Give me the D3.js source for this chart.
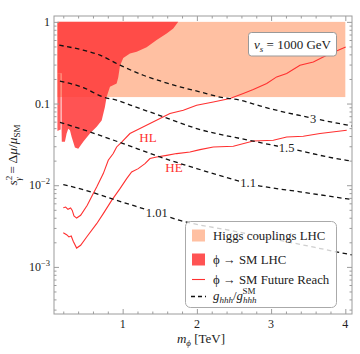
<!DOCTYPE html>
<html>
<head>
<meta charset="utf-8">
<script src="https://cdn.jsdelivr.net/npm/d3@7"></script>
<style>
body { margin: 0; background: #fff; }
text { font-family: "Liberation Serif", "DejaVu Serif", serif; fill: #222; }
</style>
</head>
<body>
<div id="chart"></div>
<script>
// ---- data: [m_phi in TeV, s_gamma^2] ----
var xMajor = [1, 2, 3, 4];
var yMajor = [1, 0.1, 0.01, 0.001];
var yMajorLabels = [['1', ''], ['0.1', ''], ['10', '\u22122'], ['10', '\u22123']];

// Higgs couplings LHC band: [mLow, mHigh], [sLow, sHigh]
var bandM = [0.121, 4.0];
var bandS = [0.12, 1.0];

// phi -> SM LHC excluded region
var lhcRegion = [
    [0.121, 1.0], [1.749, 1.0], [1.682, 0.83], [1.593, 0.72], [1.458, 0.60], [1.323, 0.49],
    [1.189, 0.43], [1.098, 0.41], [1.008, 0.36], [0.964, 0.29], [0.941, 0.21], [0.919, 0.176],
    [0.829, 0.16], [0.784, 0.12], [0.761, 0.091], [0.717, 0.062], [0.650, 0.052], [0.559, 0.043],
    [0.469, 0.034], [0.402, 0.028], [0.357, 0.029], [0.313, 0.039], [0.290, 0.047], [0.267, 0.049],
    [0.245, 0.043], [0.222, 0.034], [0.180, 0.034], [0.177, 0.048], [0.176, 0.235], [0.121, 0.235]
];
var lhcStrip = [[0.121, 0.235], [0.165, 0.235], [0.165, 0.048], [0.121, 0.046]];

// phi -> SM future reach
var reachHL = [
    [0.200, 0.0053], [0.232, 0.0054], [0.263, 0.00507], [0.299, 0.00526], [0.321, 0.00492],
    [0.344, 0.0042], [0.380, 0.00396], [0.434, 0.00428], [0.523, 0.00567], [0.590, 0.0075],
    [0.650, 0.0095], [0.739, 0.01387], [0.806, 0.0202], [0.873, 0.0244], [0.919, 0.0294],
    [0.987, 0.0338], [1.098, 0.0429], [1.233, 0.0494], [1.368, 0.0569], [1.503, 0.0655],
    [1.637, 0.0754], [1.817, 0.0828], [1.997, 0.0953], [2.221, 0.1047], [2.446, 0.115],
    [2.625, 0.1327], [2.760, 0.1485], [2.941, 0.176], [3.075, 0.212], [3.210, 0.233],
    [3.389, 0.295], [3.569, 0.323], [3.749, 0.391], [4.005, 0.494]
];
var reachHE = [
    [0.200, 0.00262], [0.245, 0.00248], [0.276, 0.00233], [0.307, 0.00239], [0.334, 0.00206],
    [0.380, 0.0017], [0.434, 0.00184], [0.515, 0.00232], [0.650, 0.00338], [0.739, 0.00449],
    [0.852, 0.00653], [0.964, 0.00908], [1.054, 0.01205], [1.121, 0.01452], [1.210, 0.01596],
    [1.301, 0.0184], [1.368, 0.0212], [1.458, 0.0222], [1.593, 0.0232], [1.728, 0.0244],
    [1.907, 0.0255], [2.042, 0.0273], [2.221, 0.0294], [2.491, 0.030], [2.760, 0.0348],
    [3.030, 0.0355], [3.210, 0.039], [3.434, 0.0397], [3.659, 0.0429], [4.019, 0.0471]
];
var reachLabels = [['HL', 1.341, 0.0338], ['HE', 1.692, 0.0145]];

// g_hhh / g_hhh^SM contours
var contourNames = ['3', '1.5', '1.1', '1.01'];
var contour3 = [
    [0.146, 0.518], [0.469, 0.450], [0.694, 0.391], [0.964, 0.295], [1.278, 0.222], [1.547, 0.184],
    [1.772, 0.160], [2.042, 0.139], [2.311, 0.120], [2.581, 0.110], [2.895, 0.091], [3.565, 0.066],
    [4.09, 0.0531]
];
var contour15 = [
    [0.155, 0.1876], [0.469, 0.157], [0.739, 0.120], [0.919, 0.110], [1.143, 0.093], [1.503, 0.0713],
    [1.997, 0.0494], [2.716, 0.0353], [3.210, 0.0286], [4.019, 0.0202], [4.09, 0.0198]
];
var contour11 = [
    [0.155, 0.059], [0.559, 0.0449], [1.008, 0.0323], [1.503, 0.0222], [1.997, 0.016],
    [2.806, 0.00998], [3.389, 0.0083], [4.005, 0.00685], [4.09, 0.00667]
];
var contour101 = [
    [0.200, 0.0102], [0.469, 0.00883], [0.919, 0.00653], [1.460, 0.00458], [1.772, 0.00371],
    [2.500, 0.00274], [3.300, 0.00196], [4.005, 0.00145], [4.09, 0.0014]
];
var contourLabelM = [3.565, 3.21, 2.69, 1.46];

var legendLabels = ['Higgs couplings LHC', '\u03d5 \u2192 SM LHC', '\u03d5 \u2192 SM Future Reach'];

// ---- colours ----
var col_band = '#ffc0a2';
var col_lhc = '#ff3b3b';
var col_line = '#ff3030';
var col_frame = '#9c9c9c';

var width = 360, height = 354;
var pL = 54, pR = 352, pT = 16, pB = 314;

var x = d3.scaleLinear().domain([0.075, 4.09]).range([pL, pR]);
var y = d3.scaleLog().domain([2.65e-4, 1.18]).range([pB, pT]);

var svg = d3.select('#chart').append('svg')
    .attr('width', width)
    .attr('height', height);

svg.append('defs').append('clipPath').attr('id', 'plotclip')
    .append('rect').attr('x', pL).attr('y', pT)
    .attr('width', pR - pL).attr('height', pB - pT);

var plot = svg.append('g').attr('clip-path', 'url(#plotclip)');

// band
plot.append('rect')
    .attr('x', x(bandM[0]))
    .attr('y', y(bandS[1]))
    .attr('width', x(bandM[1]) - x(bandM[0]))
    .attr('height', y(bandS[0]) - y(bandS[1]))
    .attr('fill', col_band);

var area = d3.line().x(function(d) { return x(d[0]); }).y(function(d) { return y(d[1]); });

plot.append('path').datum(lhcRegion)
    .attr('d', function(d) { return area(d) + 'Z'; })
    .attr('fill', col_lhc).attr('fill-opacity', 0.88);
plot.append('path').datum(lhcStrip)
    .attr('d', function(d) { return area(d) + 'Z'; })
    .attr('fill', col_lhc).attr('fill-opacity', 0.82);

// future reach lines
[reachHL, reachHE].forEach(function(s) {
    plot.append('path').datum(s)
        .attr('d', area)
        .attr('fill', 'none')
        .attr('stroke', col_line)
        .attr('stroke-width', 1.1);
});
reachLabels.forEach(function(l) {
    plot.append('text')
        .attr('x', x(l[1])).attr('y', y(l[2]))
        .attr('text-anchor', 'middle')
        .style('font-size', '13px')
        .style('fill', col_line)
        .text(l[0]);
});

// contours
var smooth = d3.line().x(function(d) { return x(d[0]); }).y(function(d) { return y(d[1]); })
    .curve(d3.curveMonotoneX);
var contours = [contour3, contour15, contour11, contour101];
contours.forEach(function(c) {
    plot.append('path').datum(c)
        .attr('d', smooth)
        .attr('fill', 'none')
        .attr('stroke', '#111')
        .attr('stroke-width', 1.3)
        .attr('stroke-dasharray', '4.5,3.5');
});

function interpLog(c, m) {
    for (var i = 0; i < c.length - 1; i++) {
        if (m >= c[i][0] && m <= c[i + 1][0]) {
            var t = (m - c[i][0]) / (c[i + 1][0] - c[i][0]);
            return Math.pow(10, Math.log10(c[i][1]) + t * (Math.log10(c[i + 1][1]) - Math.log10(c[i][1])));
        }
    }
    return c[c.length - 1][1];
}

contours.forEach(function(c, i) {
    var m = contourLabelM[i];
    var cx = x(m), cy = y(interpLog(c, m));
    var t = plot.append('text')
        .attr('x', cx).attr('y', cy + 4.5)
        .attr('text-anchor', 'middle')
        .style('font-size', '12.5px')
        .text(contourNames[i]);
    var bb = t.node().getBBox();
    plot.insert('rect', function() { return t.node(); })
        .attr('x', bb.x - 1).attr('y', cy - 4)
        .attr('width', bb.width + 2).attr('height', 8)
        .attr('fill', '#fff');
});

// frame & ticks
var frame = svg.append('g');
var xMinor = d3.range(0.2, 4.05, 0.2).filter(function(v) { return Math.abs(v - Math.round(v)) > 0.01; });
var yMinor = [];
[1e-4, 1e-3, 1e-2, 1e-1].forEach(function(dec) {
    for (var k = 2; k <= 9; k++) { if (k * dec > 2.65e-4 && k * dec < 1.18) yMinor.push(k * dec); }
});

function tickAxis(axis, tr) {
    var g = frame.append('g').attr('transform', tr).call(axis);
    g.select('.domain').remove();
    g.selectAll('line').attr('stroke', col_frame);
    g.selectAll('text').remove();
}
tickAxis(d3.axisBottom(x).tickValues(xMajor).tickSize(-5), 'translate(0,' + pB + ')');
tickAxis(d3.axisBottom(x).tickValues(xMinor).tickSize(-2.5), 'translate(0,' + pB + ')');
tickAxis(d3.axisTop(x).tickValues(xMajor).tickSize(-5), 'translate(0,' + pT + ')');
tickAxis(d3.axisTop(x).tickValues(xMinor).tickSize(-2.5), 'translate(0,' + pT + ')');
tickAxis(d3.axisLeft(y).tickValues(yMajor).tickSize(-5), 'translate(' + pL + ',0)');
tickAxis(d3.axisLeft(y).tickValues(yMinor).tickSize(-2.5), 'translate(' + pL + ',0)');
tickAxis(d3.axisRight(y).tickValues(yMajor).tickSize(-5), 'translate(' + pR + ',0)');
tickAxis(d3.axisRight(y).tickValues(yMinor).tickSize(-2.5), 'translate(' + pR + ',0)');

frame.append('rect')
    .attr('x', pL).attr('y', pT)
    .attr('width', pR - pL).attr('height', pB - pT)
    .attr('fill', 'none')
    .attr('stroke', col_frame)
    .attr('stroke-width', 1);

// tick labels
xMajor.forEach(function(v) {
    svg.append('text')
        .attr('x', x(v)).attr('y', 328)
        .attr('text-anchor', 'middle')
        .style('font-size', '12px')
        .text(v);
});
yMajor.forEach(function(v, i) {
    var t = svg.append('text')
        .attr('x', 50).attr('y', y(v) + 4)
        .attr('text-anchor', 'end')
        .style('font-size', '12px');
    t.append('tspan').text(yMajorLabels[i][0]);
    if (yMajorLabels[i][1]) {
        t.append('tspan').attr('dy', -5).style('font-size', '8.5px').text(yMajorLabels[i][1]);
    }
});

// axis titles
var xt = svg.append('text')
    .attr('x', 201).attr('y', 343)
    .attr('text-anchor', 'middle')
    .style('font-size', '13px');
xt.append('tspan').style('font-style', 'italic').text('m');
xt.append('tspan').attr('dy', 3).style('font-size', '9px').style('font-style', 'italic').text('\u03d5');
xt.append('tspan').attr('dy', -3).text(' [TeV]');

var yt = svg.append('text')
    .attr('transform', 'translate(17,155) rotate(-90)')
    .attr('text-anchor', 'middle')
    .style('font-size', '13.5px');
yt.append('tspan').style('font-style', 'italic').text('s');
yt.append('tspan').attr('dy', -5).style('font-size', '9px').text('2');
yt.append('tspan').attr('dx', -5).attr('dy', 9).style('font-size', '9px').style('font-style', 'italic').text('\u03b3');
yt.append('tspan').attr('dy', -4).text(' = \u0394');
yt.append('tspan').style('font-style', 'italic').text('\u03bc');
yt.append('tspan').text('/');
yt.append('tspan').style('font-style', 'italic').text('\u03bc');
yt.append('tspan').attr('dy', 3).style('font-size', '9px').text('SM');

// v_s box
svg.append('rect')
    .attr('x', 248.5).attr('y', 32.5).attr('width', 88).attr('height', 23.5)
    .attr('rx', 3)
    .attr('fill', '#fff').attr('stroke', '#999');
var vt = svg.append('text')
    .attr('x', 292.5).attr('y', 49)
    .attr('text-anchor', 'middle')
    .style('font-size', '13px');
vt.append('tspan').style('font-style', 'italic').text('v');
vt.append('tspan').attr('dy', 3).style('font-size', '9px').style('font-style', 'italic').text('s');
vt.append('tspan').attr('dy', -3).text(' = 1000 GeV');

// legend
var lg = svg.append('g');
lg.append('rect')
    .attr('x', 185.5).attr('y', 221.5).attr('width', 151).attr('height', 86)
    .attr('rx', 5)
    .attr('fill', '#fff').attr('fill-opacity', 0.8)
    .attr('stroke', '#aaa');
var rowY = [235.5, 259.5, 279.5, 296.5];
lg.append('rect').attr('x', 192).attr('y', rowY[0] - 6).attr('width', 13).attr('height', 12)
    .attr('fill', col_band);
lg.append('rect').attr('x', 192).attr('y', rowY[1] - 6).attr('width', 13).attr('height', 12)
    .attr('fill', col_lhc).attr('fill-opacity', 0.88);
lg.append('line').attr('x1', 192).attr('x2', 205).attr('y1', rowY[2]).attr('y2', rowY[2])
    .attr('stroke', col_line).attr('stroke-width', 1.1);
lg.append('line').attr('x1', 191).attr('x2', 206).attr('y1', rowY[3]).attr('y2', rowY[3])
    .attr('stroke', '#111').attr('stroke-width', 1.3).attr('stroke-dasharray', '4,3');
legendLabels.forEach(function(s, i) {
    lg.append('text')
        .attr('x', 213).attr('y', rowY[i] + 4.5)
        .style('font-size', '12.8px')
        .text(s);
});
var gt = lg.append('text').attr('x', 213).attr('y', rowY[3] + 3).style('font-size', '12.8px');
gt.append('tspan').style('font-style', 'italic').text('g');
gt.append('tspan').attr('dy', 3).style('font-size', '9px').style('font-style', 'italic').text('hhh');
gt.append('tspan').attr('dy', -3).text('/');
gt.append('tspan').style('font-style', 'italic').text('g');
gt.append('tspan').attr('dy', 3).style('font-size', '9px').style('font-style', 'italic').text('hhh');
var gLen = gt.node().getComputedTextLength();
lg.append('text')
    .attr('x', 213 + gLen - 14).attr('y', rowY[3] - 3)
    .style('font-size', '9px')
    .text('SM');
</script>
</body>
</html>
